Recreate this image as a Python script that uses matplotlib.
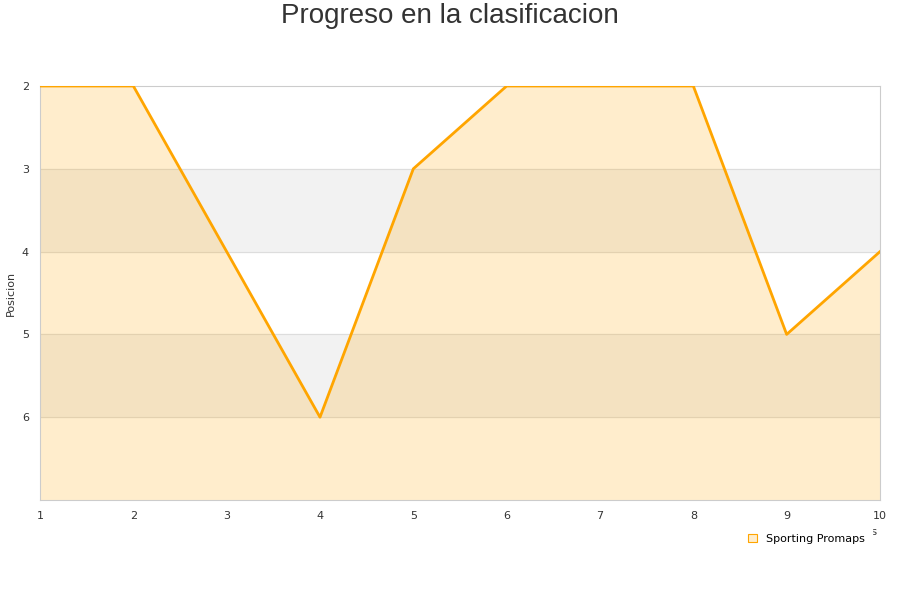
import matplotlib.pyplot as plt
from matplotlib.patches import Patch

# datos
jornadas = [1, 2, 3, 4, 5, 6, 7, 8, 9, 10]
posiciones = [2, 2, 4, 6, 3, 2, 2, 2, 5, 4]
equipo = 'Sporting Promaps'
y_ticks = [2, 3, 4, 5, 6]

fig = plt.figure(figsize=(9, 6), dpi=100)
ax = fig.add_axes([40 / 900, 100 / 600, 840 / 900, 414 / 600])

# bandas grises alternas
for lo in [3, 5]:
    ax.axhspan(lo, lo + 1, color='#f2f2f2', zorder=0)
for yv in [3, 4, 5, 6]:
    ax.axhline(yv, color='#dddddd', linewidth=0.8, zorder=1)

ax.fill_between(jornadas, posiciones, 7, color='#ffa500', alpha=0.2, linewidth=0, zorder=2)
ax.plot(jornadas, posiciones, color='#ffa500', linewidth=2, zorder=3)

ax.set_xlim(1, 10)
ax.set_ylim(7, 2)
ax.set_xticks(jornadas)
ax.set_yticks(y_ticks)
ax.tick_params(length=0, labelsize=8, colors='#333333', pad=8)
for s in ax.spines.values():
    s.set_color('#cccccc')
    s.set_linewidth(0.8)

ax.set_ylabel('Posicion', fontsize=8, color='#333333', labelpad=4)
# etiqueta del eje x, casi tapada por la leyenda
ax.text(878 / 900, 1 - 532 / 600, 'Jornadas', fontsize=8, color='#333333', ha='right', va='center',
        transform=fig.transFigure, clip_on=False, zorder=4)

fig.suptitle('Progreso en la clasificacion', fontsize=20, color='#333333',
             fontfamily='Liberation Sans', y=1 - 16 / 600, va='center')

leg = ax.legend(handles=[Patch(facecolor='#ffedcc', edgecolor='#ffa500', linewidth=0.8, label=equipo)],
                loc='upper left', bbox_to_anchor=(740 / 900, 1 - 526 / 600),
                bbox_transform=fig.transFigure, frameon=True, fontsize=8,
                handlelength=0.8, handleheight=0.8, handletextpad=0.8, borderpad=0.7,
                borderaxespad=0, fancybox=False)
leg.set_zorder(6)
leg.get_frame().set_edgecolor('white')
leg.get_frame().set_facecolor('white')
leg.get_frame().set_alpha(1)

fig.savefig('out.png', dpi=100)
